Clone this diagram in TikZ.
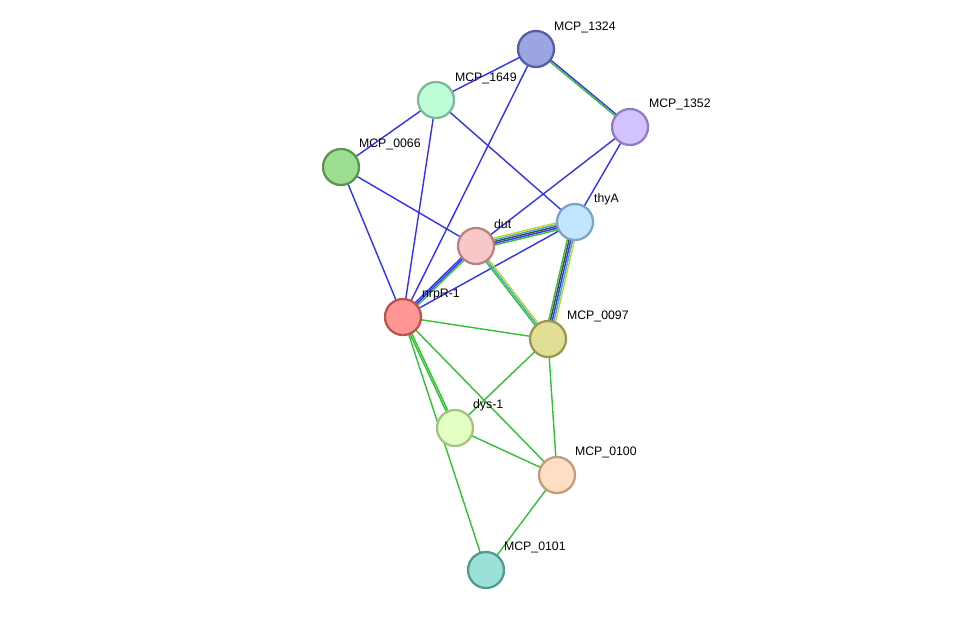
\documentclass[tikz,border=0pt]{standalone}
\usepackage{fontspec}
\setmainfont{Liberation Sans}
\usetikzlibrary{calc,positioning,backgrounds}

\definecolor{cnb}{HTML}{3333EE}
\definecolor{cng}{HTML}{33C033}
\definecolor{cnk}{HTML}{444444}
\definecolor{cnc}{HTML}{33B0D0}
\definecolor{cny}{HTML}{C8D030}

% edge bundle: \bundle{from}{to}{colour list}
\newcommand{\bundle}[3]{%
  \foreach \cc [count=\ii] in {#3} {\global\let\nn\ii}%
  \foreach \cc [count=\ii] in {#3} {%
    \pgfmathsetmacro{\off}{(\ii-(\nn+1)/2)*1.0}%
    \draw[line width=0.8pt,\cc] ($(#1.center)!\off pt!90:(#2.center)$) -- ($(#2.center)!\off pt!-90:(#1.center)$);
  }}

\begin{document}
\begin{tikzpicture}[x=0.02cm,y=-0.02cm,
    prot/.style={circle,draw,line width=1.3pt,minimum size=0.72cm,inner sep=0pt},
    lab/.style={font=\fontsize{7}{8}\selectfont,inner sep=1pt}]
  \useasboundingbox (0,0) rectangle (976,616);
  % proteins
  \node[prot,fill={rgb,255:red,155;green,165;blue,225},draw={rgb,255:red,85;green,95;blue,160}] (m1324) at (536,49) {};
  \node[prot,fill={rgb,255:red,190;green,255;blue,218},draw={rgb,255:red,125;green,185;blue,150}] (m1649) at (436,100) {};
  \node[prot,fill={rgb,255:red,210;green,195;blue,255},draw={rgb,255:red,145;green,125;blue,195}] (m1352) at (630,127) {};
  \node[prot,fill={rgb,255:red,158;green,222;blue,145},draw={rgb,255:red,90;green,150;blue,80}] (m0066) at (341,167) {};
  \node[prot,fill={rgb,255:red,195;green,230;blue,255},draw={rgb,255:red,125;green,165;blue,195}] (thyA) at (575,222) {};
  \node[prot,fill={rgb,255:red,248;green,200;blue,200},draw={rgb,255:red,185;green,130;blue,130}] (dut) at (476,246) {};
  \node[prot,fill={rgb,255:red,255;green,150;blue,150},draw={rgb,255:red,190;green,80;blue,80}] (nrpR) at (403,317) {};
  \node[prot,fill={rgb,255:red,225;green,222;blue,150},draw={rgb,255:red,155;green,150;blue,80}] (m0097) at (548,339) {};
  \node[prot,fill={rgb,255:red,228;green,255;blue,195},draw={rgb,255:red,165;green,195;blue,130}] (dys) at (455,428) {};
  \node[prot,fill={rgb,255:red,255;green,222;blue,195},draw={rgb,255:red,195;green,155;blue,125}] (m0100) at (557,475) {};
  \node[prot,fill={rgb,255:red,155;green,225;blue,215},draw={rgb,255:red,80;green,155;blue,145}] (m0101) at (486,570) {};
  % labels
  \node[lab,anchor=south west] at (552,35) {MCP\_1324};
  \node[lab,anchor=south west] at (453,86) {MCP\_1649};
  \node[lab,anchor=south west] at (647,112) {MCP\_1352};
  \node[lab,anchor=south west] at (357,152) {MCP\_0066};
  \node[lab,anchor=south west] at (592,207) {thyA};
  \node[lab,anchor=south west] at (492,231) {dut};
  \node[lab,anchor=south west] at (420,302) {nrpR-1};
  \node[lab,anchor=south west] at (565,324) {MCP\_0097};
  \node[lab,anchor=south west] at (471,413) {dys-1};
  \node[lab,anchor=south west] at (573,460) {MCP\_0100};
  \node[lab,anchor=south west] at (502,555) {MCP\_0101};
  % interactions
  \begin{scope}[on background layer]
    \bundle{m1324}{m1649}{cnb}
    \bundle{m1324}{nrpR}{cnb}
    \bundle{m1324}{m1352}{cng,cnb}
    \bundle{m1649}{m0066}{cnb}
    \bundle{m1649}{nrpR}{cnb}
    \bundle{m1649}{thyA}{cnb}
    \bundle{m0066}{nrpR}{cnb}
    \bundle{m0066}{dut}{cnb}
    \bundle{m1352}{thyA}{cnb}
    \bundle{m1352}{dut}{cnb}
    \bundle{thyA}{nrpR}{cnb}
    \bundle{dut}{thyA}{cng,cnb,cnk,cnc,cny}
    \bundle{thyA}{m0097}{cng,cnk,cnb,cnc,cny}
    \bundle{dut}{m0097}{cng,cnc,cny}
    \bundle{nrpR}{dut}{cng,cnb,cnb}
    \bundle{nrpR}{m0097}{cng}
    \bundle{nrpR}{dys}{cng,cng}
    \bundle{nrpR}{m0100}{cng}
    \bundle{nrpR}{m0101}{cng}
    \bundle{m0097}{dys}{cng}
    \bundle{m0097}{m0100}{cng}
    \bundle{dys}{m0100}{cng}
    \bundle{m0100}{m0101}{cng}
  \end{scope}
\end{tikzpicture}
\end{document}
